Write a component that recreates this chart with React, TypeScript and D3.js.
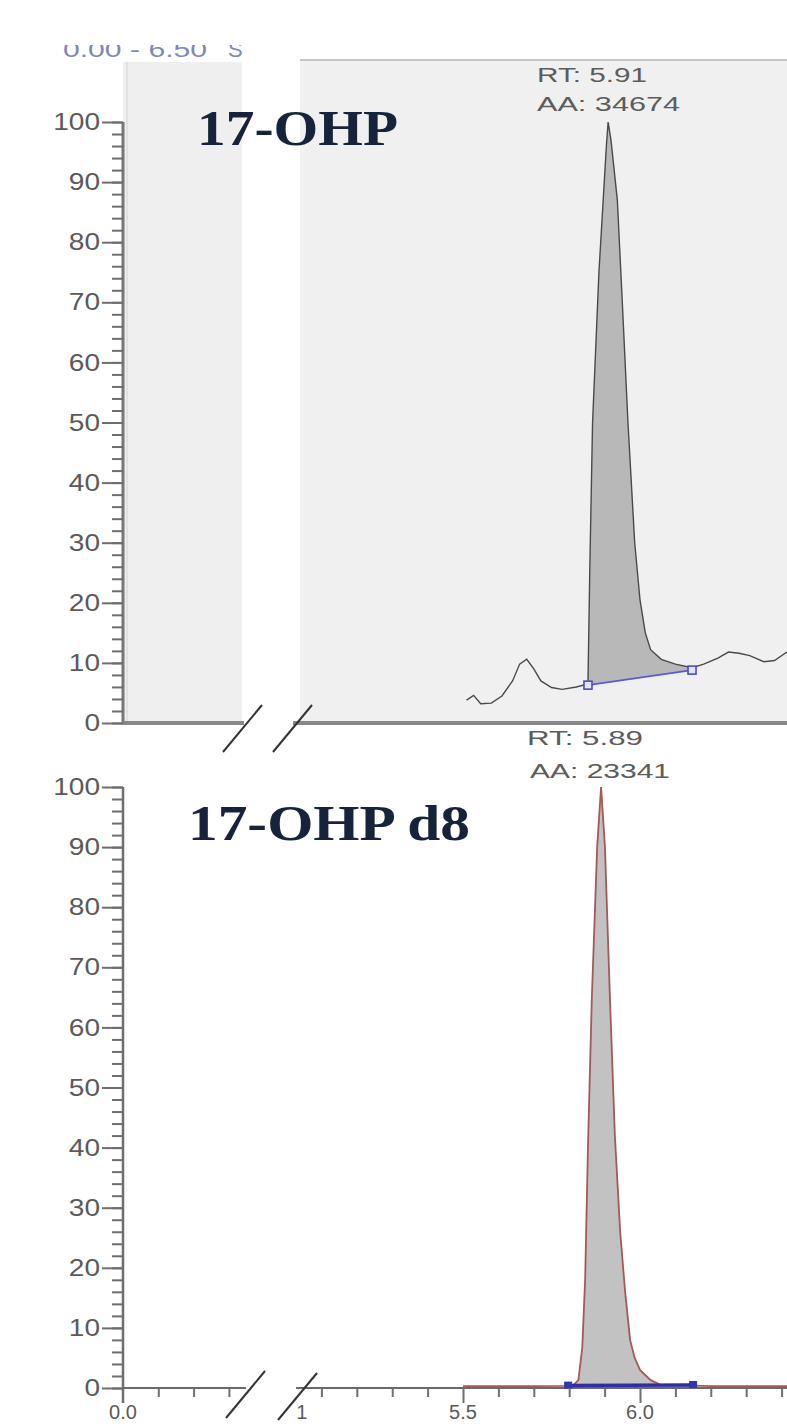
import React, { useEffect, useRef } from 'react';
import * as d3 from 'd3';

// 17-OHP trace (retention time in min, relative abundance %)
const topTimes = [5.51, 5.53, 5.55, 5.58, 5.61, 5.64, 5.66, 5.68, 5.70, 5.72, 5.75, 5.78, 5.82, 5.853, 5.858, 5.866, 5.884, 5.896, 5.905, 5.91, 5.918, 5.936, 5.95, 5.966, 5.985, 6.0, 6.015, 6.03, 6.06, 6.1, 6.147, 6.18, 6.22, 6.25, 6.28, 6.31, 6.35, 6.38, 6.415];
const topValues = [3.8, 4.6, 3.2, 3.3, 4.5, 7.0, 9.8, 10.6, 9.0, 7.0, 5.9, 5.6, 6.0, 6.5, 25, 50, 75, 87, 96, 100, 97, 87, 70, 50, 30, 20.5, 15, 12.2, 10.6, 9.8, 9.2, 9.8, 10.8, 11.8, 11.6, 11.2, 10.2, 10.4, 11.8];
const topBaseTimes = [5.853, 6.147];
const topBaseValues = [6.3, 8.8];

// 17-OHP d8 trace
const botTimes = [5.5, 5.6, 5.7, 5.797, 5.81, 5.826, 5.837, 5.845, 5.853, 5.864, 5.879, 5.89, 5.901, 5.915, 5.929, 5.944, 5.958, 5.972, 5.985, 6.0, 6.03, 6.06, 6.1, 6.15, 6.2, 6.3, 6.416];
const botValues = [0.3, 0.3, 0.3, 0.35, 0.4, 1.3, 6.8, 18, 40, 65, 90, 100, 90, 65, 42, 26, 16, 8, 5, 3, 1.3, 0.5, 0.4, 0.4, 0.3, 0.3, 0.3];
const botBaseTimes = [5.797, 6.15];
const botBaseValues = [0.4, 0.5];

const yMajorTicks = [0, 10, 20, 30, 40, 50, 60, 70, 80, 90, 100];
const xLeftMinor = [0.1, 0.2, 0.3];
const xRightMinor = [5.1, 5.2, 5.3, 5.4, 5.6, 5.7, 5.8, 5.9, 6.1, 6.2, 6.3, 6.4];
const xRightMajor = [5.5, 6.0];
const xLabelTexts = ['0.0', '1', '5.5', '6.0'];
const xLabelValues = [0, 5.045, 5.5, 6.0];

const peakLabelsTop = ['RT: 5.91', 'AA: 34674'];
const peakLabelsBot = ['RT: 5.89', 'AA: 23341'];

const W = 787;
const H = 1427;
const axisX = 123;

const xLeft = d3.scaleLinear().domain([0, 0.5]).range([axisX, axisX + 176.5]);
const xRight = d3.scaleLinear().domain([5.5, 6.0]).range([463, 640]);
const yTop = d3.scaleLinear().domain([0, 100]).range([723, 122]);
const yBot = d3.scaleLinear().domain([0, 100]).range([1388, 787]);

const labelFont = '"Liberation Sans", Arial, sans-serif';

function YAxis({ scale }: { scale: d3.ScaleLinear<number, number> }) {
  const ref = useRef<SVGGElement>(null);
  useEffect(() => {
    const g = d3.select(ref.current);
    g.selectAll('*').remove();
    g.append('g').call(
      d3.axisLeft(scale).tickValues(d3.range(0, 101, 2)).tickSize(11).tickSizeOuter(0).tickFormat(() => '')
    );
    g.append('g').call(
      d3.axisLeft(scale).tickValues(yMajorTicks).tickSize(21).tickPadding(2).tickSizeOuter(0).tickFormat(d3.format('d'))
    );
    g.selectAll('.domain').remove();
    g.selectAll('line').attr('stroke', '#6e6e6e').attr('stroke-width', 2);
    g.selectAll('text')
      .attr('font-size', 24)
      .attr('font-family', labelFont)
      .attr('fill', '#5a5a5a')
      .attr('textLength', (d: any) => String(d).length * 15.6)
      .attr('lengthAdjust', 'spacingAndGlyphs');
  }, [scale]);
  return <g ref={ref} transform={`translate(${axisX},0)`} />;
}

function XTicks() {
  const ref = useRef<SVGGElement>(null);
  useEffect(() => {
    const g = d3.select(ref.current);
    g.selectAll('*').remove();
    const y0 = yBot(0);
    g.append('g').attr('transform', `translate(0,${y0})`)
      .call(d3.axisBottom(xLeft).tickValues(xLeftMinor).tickSize(9).tickFormat(() => ''));
    g.append('g').attr('transform', `translate(0,${y0})`)
      .call(d3.axisBottom(xRight).tickValues(xRightMinor).tickSize(9).tickFormat(() => ''));
    g.append('g').attr('transform', `translate(0,${y0})`)
      .call(d3.axisBottom(xRight).tickValues(xRightMajor).tickSize(15).tickFormat(() => ''));
    g.selectAll('.domain').remove();
    g.selectAll('line').attr('stroke', '#6e6e6e').attr('stroke-width', 2);
  }, []);
  return <g ref={ref} />;
}

function buildArea(times: number[], values: number[], bt: number[], bv: number[], y: d3.ScaleLinear<number, number>) {
  const base = d3.scaleLinear().domain(bt).range(bv);
  const pts = times.map((t, i) => ({ t, v: values[i] })).filter(d => d.t >= bt[0] && d.t <= bt[1]);
  return d3.area<{ t: number; v: number }>()
    .x(d => xRight(d.t))
    .y0(d => y(base(d.t)))
    .y1(d => y(Math.max(d.v, base(d.t))))(pts);
}

export default function App() {
  useEffect(() => {
    document.body.style.margin = '0';
  }, []);

  const topLine = d3.line<number>().x((d, i) => xRight(topTimes[i])).y(d => yTop(d))(topValues);
  const botLine = d3.line<number>().x((d, i) => xRight(botTimes[i])).y(d => yBot(d))(botValues);
  const topFill = buildArea(topTimes, topValues, topBaseTimes, topBaseValues, yTop);
  const botFill = buildArea(botTimes, botValues, botBaseTimes, botBaseValues, yBot);

  const slash = (x0: number, yc: number) =>
    <line x1={x0} y1={yc + 27} x2={x0 + 39} y2={yc - 20} stroke="#333" strokeWidth={2} />;

  return (
    <svg width={W} height={H} style={{ position: 'absolute', left: 0, top: 0, background: '#fff' }}>
      <defs>
        <clipPath id="topcut">
          <rect x={0} y={45} width={W} height={30} />
        </clipPath>
      </defs>

      {/* range label, cut at the top as in the source image */}
      <g clipPath="url(#topcut)" fontFamily={labelFont} fill="#7f88b8">
        <text x={63} y={57} fontSize={22} textLength={144} lengthAdjust="spacingAndGlyphs">0.00 - 6.50</text>
        <text x={228} y={57} fontSize={22}>S</text>
      </g>

      {/* top panel background */}
      <rect x={axisX} y={62} width={242 - axisX} height={723 - 62} fill="#efefef" />
      <rect x={300} y={60} width={W - 300} height={723 - 60} fill="#f0f0f0" />
      <line x1={300} y1={60} x2={W} y2={60} stroke="#c4c4c4" strokeWidth={2} />
      <line x1={axisX + 4} y1={62} x2={axisX + 4} y2={723} stroke="#e2e2e2" strokeWidth={2} />

      {/* top chromatogram */}
      <path d={topFill ?? ''} fill="#b8b8b8" />
      <path d={topLine ?? ''} fill="none" stroke="#4a4a4a" strokeWidth={1.4} />
      <line x1={xRight(topBaseTimes[0])} y1={yTop(topBaseValues[0])} x2={xRight(topBaseTimes[1])} y2={yTop(topBaseValues[1])} stroke="#5a5ad6" strokeWidth={1.6} />
      {topBaseTimes.map((t, i) => (
        <rect key={i} x={xRight(t) - 4} y={yTop(topBaseValues[i]) - 4} width={8} height={8} fill="#e4e4fa" stroke="#4a4ac8" strokeWidth={1.6} />
      ))}

      {/* top axes */}
      <line x1={axisX} y1={yTop(100)} x2={axisX} y2={yTop(0)} stroke="#777" strokeWidth={3} />
      <line x1={axisX} y1={yTop(0)} x2={244} y2={yTop(0)} stroke="#888" strokeWidth={4} />
      <line x1={293} y1={yTop(0)} x2={W} y2={yTop(0)} stroke="#888" strokeWidth={4} />
      <YAxis scale={yTop} />
      {slash(223, 725)}
      {slash(273, 725)}

      <text x={197} y={145} fontFamily='"Liberation Serif", "Times New Roman", serif' fontWeight="bold" fontSize={50} fill="#17233a" textLength={201} lengthAdjust="spacingAndGlyphs">17-OHP</text>
      <g fontFamily={labelFont} fill="#5c5c5c" fontSize={20}>
        <text x={537} y={82} textLength={110} lengthAdjust="spacingAndGlyphs">{peakLabelsTop[0]}</text>
        <text x={537} y={111} textLength={143} lengthAdjust="spacingAndGlyphs">{peakLabelsTop[1]}</text>
      </g>

      {/* bottom chromatogram */}
      <line x1={axisX} y1={yBot(0)} x2={246} y2={yBot(0)} stroke="#6a6a6a" strokeWidth={2} />
      <line x1={296} y1={yBot(0)} x2={W} y2={yBot(0)} stroke="#6a6a6a" strokeWidth={2} />
      <path d={botFill ?? ''} fill="#c2c2c2" />
      <path d={botLine ?? ''} fill="none" stroke="#a65858" strokeWidth={1.8} />
      <line x1={xRight(botBaseTimes[0])} y1={yBot(botBaseValues[0])} x2={xRight(botBaseTimes[1])} y2={yBot(botBaseValues[1])} stroke="#2e2ea8" strokeWidth={3.5} />
      {botBaseTimes.map((t, i) => (
        <rect key={i} x={xRight(t) - 4} y={yBot(botBaseValues[i]) - 4} width={8} height={7} fill="#3434b0" />
      ))}

      <line x1={axisX} y1={yBot(100)} x2={axisX} y2={yBot(0) + 15} stroke="#6e6e6e" strokeWidth={2.5} />
      <YAxis scale={yBot} />
      <XTicks />
      {slash(226, 1391)}
      {slash(278, 1393)}
      <g fontFamily={labelFont} fill="#5a5a5a" fontSize={20} textAnchor="middle">
        {xLabelTexts.map((s, i) => (
          <text key={s} x={i === 0 ? xLeft(xLabelValues[i]) : xRight(xLabelValues[i])} y={1419}>{s}</text>
        ))}
      </g>

      <text x={188} y={840} fontFamily='"Liberation Serif", "Times New Roman", serif' fontWeight="bold" fontSize={50} fill="#17233a" textLength={282} lengthAdjust="spacingAndGlyphs">17-OHP d8</text>
      <g fontFamily={labelFont} fill="#5c5c5c" fontSize={20}>
        <text x={527} y={745} textLength={116} lengthAdjust="spacingAndGlyphs">{peakLabelsBot[0]}</text>
        <text x={530} y={778} textLength={140} lengthAdjust="spacingAndGlyphs">{peakLabelsBot[1]}</text>
      </g>
    </svg>
  );
}
